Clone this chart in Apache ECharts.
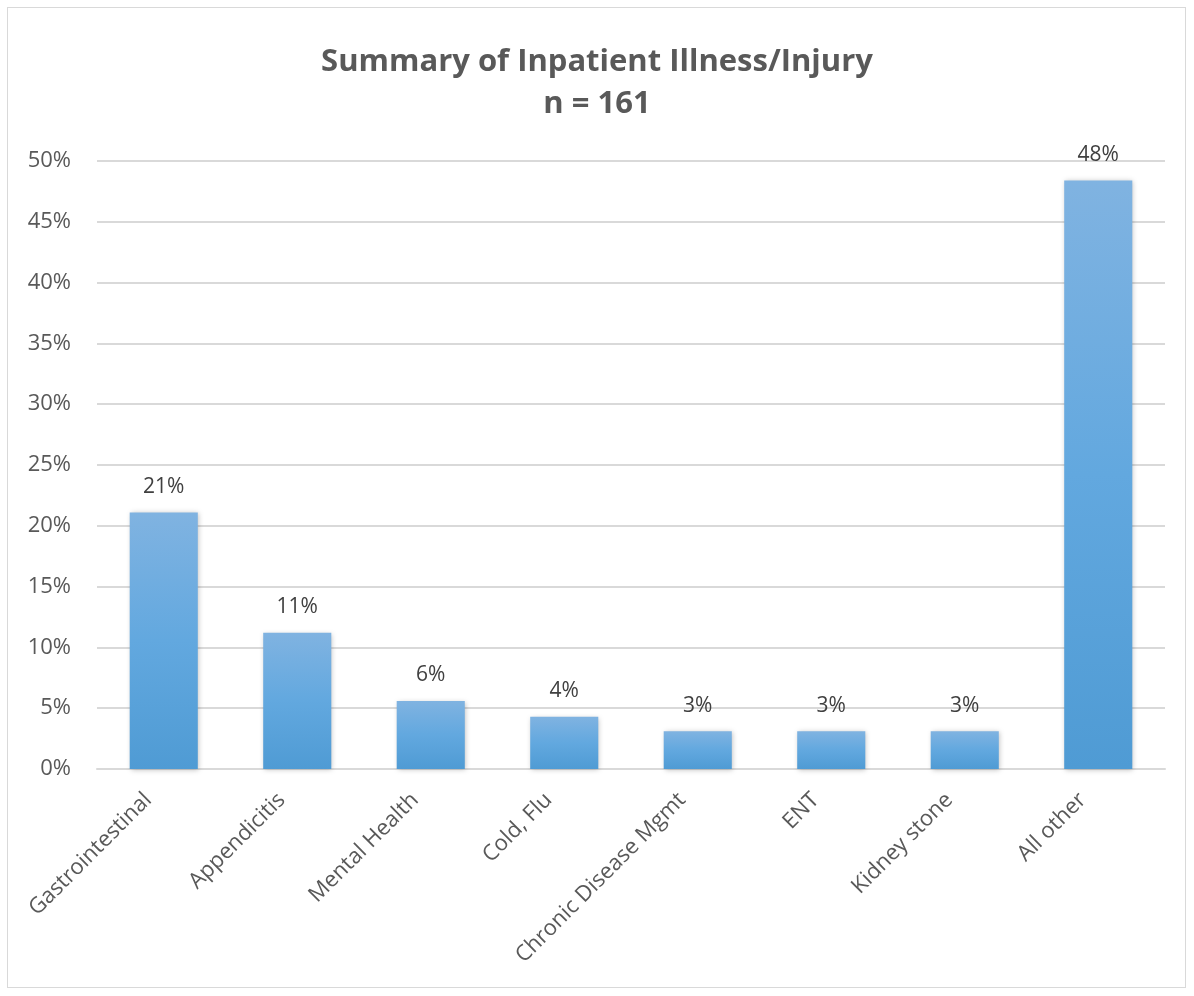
<!DOCTYPE html>
<html>
<head>
<meta charset="utf-8">
<script src="https://cdn.jsdelivr.net/npm/echarts@6/dist/echarts.min.js"></script>
<style>
html,body{margin:0;padding:0;background:#fff;}
#frame{position:absolute;left:7px;top:7px;width:1179px;height:981px;border:1.5px solid #d9d9d9;box-sizing:border-box;}
#chart{position:absolute;left:0;top:0;width:1194px;height:996px;}
</style>
</head>
<body>
<div id="frame"></div>
<div id="chart"></div>
<script>
var titleText = 'Summary of Inpatient Illness/Injury\nn = 161';
var categories = ['Gastrointestinal', 'Appendicitis', 'Mental Health', 'Cold, Flu', 'Chronic Disease Mgmt', 'ENT', 'Kidney stone', 'All other'];
var values = [21.1, 11.2, 5.6, 4.3, 3.1, 3.1, 3.1, 48.4];
var yTicks = { min: 0, max: 50, interval: 5 };

var chart = echarts.init(document.getElementById('chart'), null, {renderer: 'canvas'});
var font = '"Open Sans", "Noto Sans", sans-serif';
chart.setOption({
  animation: false,
  title: {
    text: titleText,
    left: 'center',
    top: 36,
    textStyle: { fontFamily: font, fontSize: 31, fontWeight: 'bold', color: '#595959', lineHeight: 42 }
  },
  grid: { left: 97, right: 29, top: 161, bottom: 227, containLabel: false },
  xAxis: {
    type: 'category',
    data: categories,
    axisLine: { lineStyle: { color: '#d9d9d9', width: 2 } },
    axisTick: { show: false },
    axisLabel: { rotate: 45, fontFamily: font, fontSize: 22, color: '#595959', margin: 12, padding: [0, 22, 0, 0], interval: 0 }
  },
  yAxis: {
    type: 'value',
    min: yTicks.min, max: yTicks.max, interval: yTicks.interval,
    axisLine: { show: false },
    axisTick: { show: false },
    splitLine: { lineStyle: { color: '#d9d9d9', width: 2 } },
    axisLabel: { formatter: function (v) { return v + '%'; }, fontFamily: font, fontSize: 22, color: '#595959', margin: 26 }
  },
  series: [{
    type: 'bar',
    data: values,
    barWidth: '51%',
    itemStyle: {
      color: new echarts.graphic.LinearGradient(0, 0, 0, 1, [
        { offset: 0, color: '#80b3e1' },
        { offset: 0.5, color: '#62a8df' },
        { offset: 1, color: '#4f9bd4' }
      ]),
      shadowBlur: 5,
      shadowColor: 'rgba(0,0,0,0.25)',
      shadowOffsetX: 1,
      shadowOffsetY: 1
    },
    label: {
      show: true,
      position: 'top',
      distance: 15,
      formatter: function (p) { return Math.round(p.value) + '%'; },
      fontFamily: font, fontSize: 21, color: '#404040'
    }
  }]
});
</script>
</body>
</html>
